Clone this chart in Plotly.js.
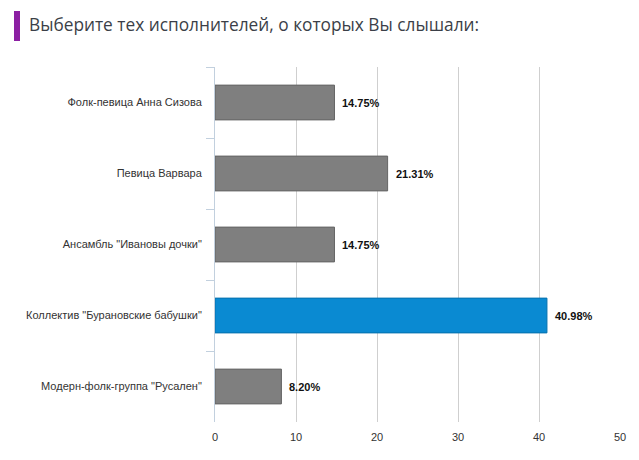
<!DOCTYPE html>
<html>
<head>
<meta charset="utf-8">
<script src="https://cdn.plot.ly/plotly-3.0.1.min.js"></script>
<style>
  html, body { margin:0; padding:0; background:#ffffff; }
  #myDiv { width:639px; height:460px; }
</style>
</head>
<body>
<div id="myDiv"></div>
<script>
// survey answers, top to bottom as in the picture
var categories = [
  'Фолк-певица Анна Сизова',
  'Певица Варвара',
  'Ансамбль "Ивановы дочки"',
  'Коллектив "Бурановские бабушки"',
  'Модерн-фолк-группа "Русален"'
];
var values = [14.75, 21.31, 14.75, 40.98, 8.20];
var valueLabels = ['14.75%', '21.31%', '14.75%', '40.98%', '8.20%'];
var highlighted = 'Коллектив "Бурановские бабушки"';
var xTicks = [0, 10, 20, 30, 40, 50];

function plot_survey() {
  let barColors = categories.map(function(c) { return c == highlighted ? '#0a8ad2' : '#7f7f7f'; });
  let lineColors = categories.map(function(c) { return c == highlighted ? '#0671ad' : '#646464'; });

  let trace = {
    type: 'bar',
    orientation: 'h',
    x: values,
    y: categories,
    marker: { color: barColors, line: { color: lineColors, width: 1 } },
    hoverinfo: 'none',
    showlegend: false
  };

  // value labels just right of each bar end
  let labels = categories.map(function(c, i) {
    return { x: values[i], y: c, xref: 'x', yref: 'y',
             text: valueLabels[i], showarrow: false,
             xanchor: 'left', yanchor: 'middle', xshift: 6,
             font: { family: 'Liberation Sans, Arial, sans-serif', size: 11, color: '#111111', weight: 'bold' } };
  });

  let layout = {
    width: 639,
    height: 460,
    margin: { l: 215, r: 19, t: 67, b: 38 },
    paper_bgcolor: '#ffffff',
    plot_bgcolor: '#ffffff',
    bargap: 0.51,
    font: { family: 'Liberation Sans, Arial, sans-serif', size: 11, color: '#333333' },
    title: {
      text: 'Выберите тех исполнителей, о которых Вы слышали:',
      font: { family: 'Open Sans, Noto Sans, sans-serif', size: 17.3, color: '#3b3f48' },
      x: 29 / 639, xanchor: 'left', xref: 'container',
      y: 1 - 25 / 460, yanchor: 'middle', yref: 'container'
    },
    xaxis: {
      range: [0, 50],
      tickmode: 'array',
      tickvals: xTicks,
      ticktext: xTicks.map(String),
      showgrid: true,
      gridcolor: '#cfcfcf',
      gridwidth: 1,
      zeroline: false,
      showline: false,
      ticks: '',
      ticklen: 0,
      ticklabelstandoff: 7,
      tickfont: { size: 11, color: '#333333' },
      fixedrange: true
    },
    yaxis: {
      type: 'category',
      autorange: 'reversed',
      showgrid: false,
      zeroline: false,
      showline: true,
      linecolor: '#c2d0de',
      linewidth: 1,
      ticks: 'outside',
      tickson: 'boundaries',
      ticklen: 8,
      tickcolor: '#c2d0de',
      ticklabelstandoff: 10,
      tickfont: { size: 11, color: '#333333' },
      fixedrange: true
    },
    annotations: labels,
    shapes: [
      // purple marker left of the title
      { type: 'rect', xref: 'paper', yref: 'paper',
        x0: (14 - 215) / 405, x1: (20 - 215) / 405,
        y0: (422 - 41) / 355, y1: (422 - 11) / 355,
        fillcolor: '#8c1fa3', line: { width: 0 } }
    ]
  };

  let config = { displayModeBar: false, staticPlot: true };
  Plotly.newPlot('myDiv', [trace], layout, config);
}

plot_survey();
</script>
</body>
</html>
